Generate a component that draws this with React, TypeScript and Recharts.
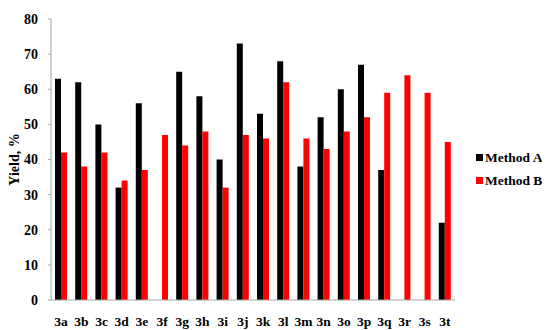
import React from 'react';
import { BarChart, Bar, XAxis, YAxis, Legend, Label } from 'recharts';

const categories = ['3a','3b','3c','3d','3e','3f','3g','3h','3i','3j','3k','3l','3m','3n','3o','3p','3q','3r','3s','3t'];
const methodA: (number | null)[] = [63,62,50,32,56,null,65,58,40,73,53,68,38,52,60,67,37,null,null,22];
const methodB: (number | null)[] = [42,38,42,34,37,47,44,48,32,47,46,62,46,43,48,52,59,64,59,45];
const yTicks = [0,10,20,30,40,50,60,70,80];

const data = categories.map((c, i) => ({ name: c, a: methodA[i], b: methodB[i] }));

const font = '"Liberation Serif", "Times New Roman", serif';

const LegendContent = () => (
  <div style={{ fontFamily: font, fontWeight: 'bold', fontSize: 13.5, color: '#000', whiteSpace: 'nowrap' }}>
    {[{ label: 'Method A', color: '#000000' }, { label: 'Method B', color: '#ff0000' }].map((it) => (
      <div key={it.label} style={{ display: 'flex', alignItems: 'center', height: 23 }}>
        <span style={{ display: 'inline-block', width: 7, height: 7, background: it.color, marginRight: 2 }} />
        <span>{it.label}</span>
      </div>
    ))}
  </div>
);

const YTick = (props: any) => {
  const { x, y, payload } = props;
  return (
    <text
      x={x - 8}
      y={y}
      dy="0.35em"
      textAnchor="end"
      fontFamily={font}
      fontWeight="bold"
      fontSize={14}
      fill="#000"
    >
      {payload.value}
    </text>
  );
};

export default function App() {
  return (
    <div style={{ width: 542, height: 322 }}>
      <BarChart
        width={542}
        height={322}
        data={data}
        margin={{ top: 11, right: 15, bottom: 0, left: 13 }}
        barSize={6}
        barGap={0}
      >
        <XAxis
          dataKey="name"
          height={30}
          axisLine={{ stroke: '#a6a6a6' }}
          tickLine={false}
          interval={0}
          tick={{ fontFamily: font, fontWeight: 'bold', fontSize: 13.5, fill: '#000' }}
          tickMargin={10}
        />
        <YAxis
          domain={[0, 80]}
          ticks={yTicks}
          width={30}
          axisLine={{ stroke: '#a6a6a6' }}
          tickLine={{ stroke: '#a6a6a6' }}
          tickSize={3}
          tickMargin={2}
          tick={<YTick />}
        >
          <Label
            value="Yield, %"
            angle={-90}
            position="insideLeft"
            offset={-7}
            style={{ fontFamily: font, fontWeight: 'bold', fontSize: 14, fill: '#000', textAnchor: 'middle' }}
          />
        </YAxis>
        <Legend
          layout="vertical"
          align="right"
          verticalAlign="middle"
          content={<LegendContent />}
          width={80}
          wrapperStyle={{ left: 468 }}
        />
        <Bar dataKey="a" name="Method A" fill="#000000" isAnimationActive={false} />
        <Bar dataKey="b" name="Method B" fill="#ff0000" isAnimationActive={false} />
      </BarChart>
    </div>
  );
}
